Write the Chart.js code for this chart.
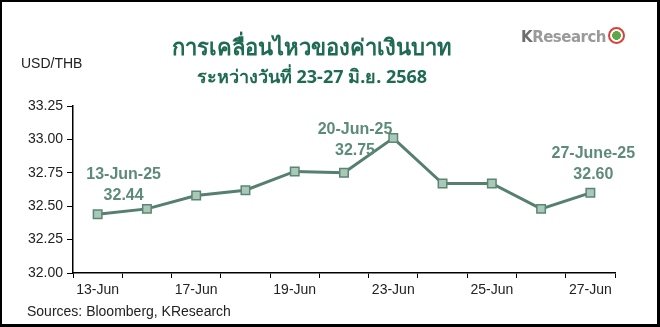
<!DOCTYPE html>
<html>
<head>
<meta charset="utf-8">
<script src="https://cdn.jsdelivr.net/npm/chart.js@4.4.1/dist/chart.umd.min.js"></script>
<style>
  body { margin: 0; background: #fff; }
  #wrap { position: relative; width: 660px; height: 327px; overflow: hidden; font-family: "Liberation Sans", Arial, sans-serif; }
  #wrap canvas { position: absolute; left: 0; top: 0; }
  .frame { position: absolute; left: 0; top: 0; width: 660px; height: 327px; box-sizing: border-box;
    border-style: solid; border-color: #000; border-width: 2px 3px 3px 2px; pointer-events: none; }
  .title { position: absolute; left: 0; width: 624px; text-align: center; color: #1f6a52; font-family: "Noto Sans", sans-serif; }
  .t1 { top: 31px; font-size: 22px; font-weight: bold; line-height: 30px; }
  .t2 { top: 65px; font-size: 18px; font-weight: bold; line-height: 22px; }
  .unit { position: absolute; left: 21px; top: 55px; font-size: 14px; color: #222; }
  .src { position: absolute; left: 27px; top: 303px; font-size: 14px; color: #222; }
  .logo { position: absolute; left: 521px; top: 27px; font-size: 15px; font-weight: bold; color: #9a9a9a; font-family: "DejaVu Sans", sans-serif; letter-spacing: -0.5px; }
  .logo b { color: #6d6d6d; }
  .logo i { display: inline-block; width: 13px; height: 13px; border: 2px solid #d8403a; border-radius: 50%;
    vertical-align: -2px; margin-left: 2px; background: radial-gradient(circle, #5fa646 45%, #fff 50%); }
</style>
</head>
<body>
<div id="wrap">
  <canvas id="fxChart" width="660" height="327"></canvas>
  <div class="title t1">การเคลื่อนไหวของค่าเงินบาท</div>
  <div class="title t2">ระหว่างวันที่ 23-27 มิ.ย. 2568</div>
  <div class="unit">USD/THB</div>
  <div class="logo"><b>K</b>Research<i></i></div>
  <div class="src">Sources: Bloomberg, KResearch</div>
  <div class="frame"></div>
</div>
<script>
// USD/THB daily close, 13-27 Jun 2025
const dates = ["13-Jun", "16-Jun", "17-Jun", "18-Jun", "19-Jun", "20-Jun",
  "23-Jun", "24-Jun", "25-Jun", "26-Jun", "27-Jun"];
const usdThb = [32.44, 32.48, 32.58, 32.62, 32.76, 32.75, 33.01, 32.67, 32.67, 32.48, 32.60];

// callout labels on the chart
const calloutIndex = [0, 5, 10];
const calloutTitle = ["13-Jun-25", "20-Jun-25", "27-June-25"];
const calloutValue = ["32.44", "32.75", "32.60"];

const yTicks = { min: 32.0, max: 33.25, step: 0.25 };

const calloutOffset = [[26, -40], [11, -43], [3, -39]];

const calloutPlugin = {
  id: "callouts",
  afterDatasetsDraw(chart) {
    const ctx = chart.ctx;
    const pts = chart.getDatasetMeta(0).data;
    ctx.save();
    ctx.font = "bold 16px 'Liberation Sans', Arial, sans-serif";
    ctx.fillStyle = "#5d8b79";
    ctx.textAlign = "center";
    ctx.textBaseline = "middle";
    calloutIndex.forEach((idx, i) => {
      const p = pts[idx];
      const x = p.x + calloutOffset[i][0];
      const y = p.y + calloutOffset[i][1];
      ctx.fillText(calloutTitle[i], x, y);
      ctx.fillText(calloutValue[i], x, y + 21);
    });
    ctx.restore();
  },
};

new Chart(document.getElementById("fxChart"), {
  type: "line",
  data: {
    labels: dates,
    datasets: [
      {
        data: usdThb,
        borderColor: "#557f6f",
        borderWidth: 3,
        pointStyle: "rect",
        pointRadius: 6,
        pointBackgroundColor: "#a9c8b8",
        pointBorderColor: "#5b8575",
        pointBorderWidth: 1.5,
        tension: 0,
      },
    ],
  },
  options: {
    responsive: false,
    animation: false,
    events: [],
    layout: { padding: { top: 106, right: 45, left: 0, bottom: 0 } },
    plugins: {
      legend: { display: false },
      tooltip: { enabled: false },
    },
    scales: {
      x: {
        offset: true,
        afterFit: (s) => { s.height = 54; },
        grid: { offset: true, drawOnChartArea: false, tickLength: 5, color: "#000", lineWidth: 1 },
        border: { color: "#000", width: 1.5 },
        ticks: {
          autoSkip: false,
          maxRotation: 0,
          padding: 4,
          color: "#222",
          font: { size: 14, family: "'Liberation Sans', Arial, sans-serif" },
          callback: function (v, i) { return i % 2 === 0 ? this.getLabelForValue(v) : ""; },
        },
      },
      y: {
        min: yTicks.min,
        max: yTicks.max,
        afterFit: (s) => { s.width = 73; },
        grid: { drawOnChartArea: false, tickLength: 6, color: "#000" },
        border: { color: "#000", width: 1.5 },
        ticks: {
          stepSize: yTicks.step,
          padding: 4,
          color: "#222",
          font: { size: 14, family: "'Liberation Sans', Arial, sans-serif" },
          callback: (v) => v.toFixed(2),
        },
      },
    },
  },
  plugins: [calloutPlugin],
});
</script>
</body>
</html>
